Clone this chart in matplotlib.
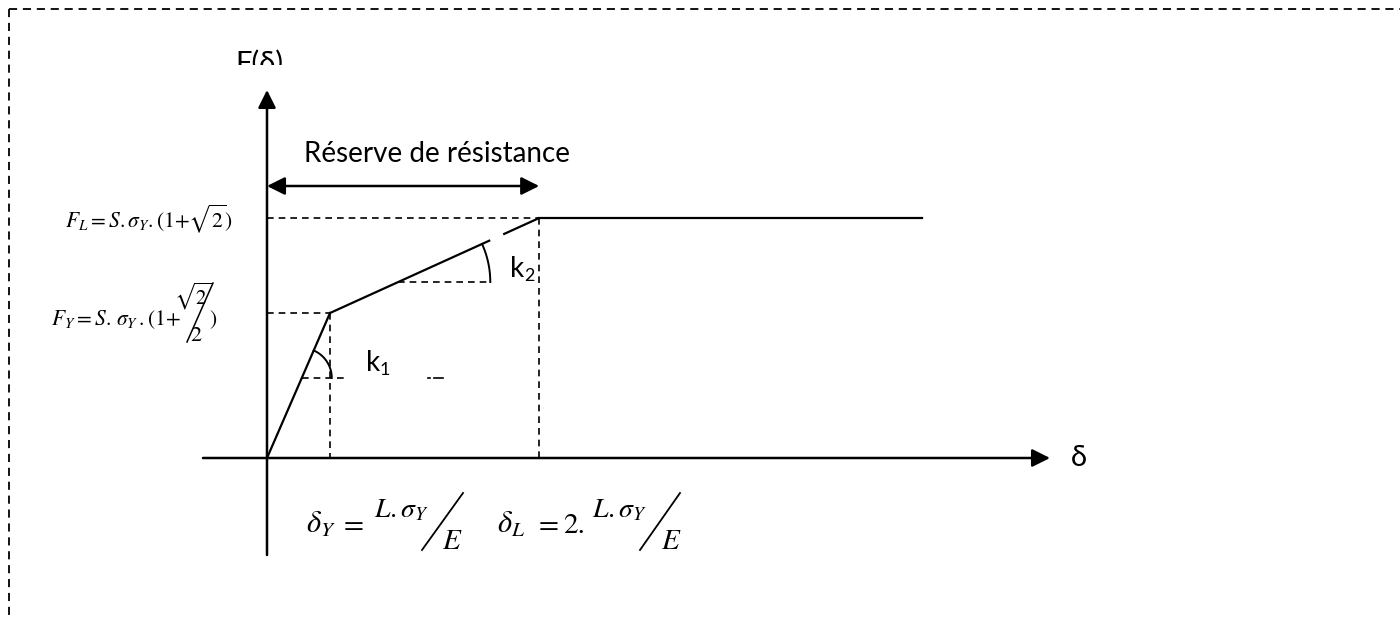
import numpy as np
import matplotlib
matplotlib.use('Agg')
import matplotlib.pyplot as plt
from matplotlib.transforms import Bbox, TransformedBbox

plt.rcParams['mathtext.fontset'] = 'stix'

# ---- data (schematic force-deformation law) ----
delta = [0.0, 1.0, 4.32, 10.40]      # deformation: origin, delta_Y, delta_L, end of plateau
force = [0.0, 1.0, 1.655, 1.655]     # force: 0, F_Y, F_L, F_L
title_reserve = "Réserve de résistance"
y_label = "F(δ)"
x_label = "δ"

W, H = 1400, 618
X0, Y0 = 267, 458
SX, SY = 63.0, 145.0


def d(px, py):
    return ((px - X0) / SX, (Y0 - py) / SY)


fig = plt.figure(figsize=(14, 6.18), dpi=100)
ax = fig.add_axes([0, 0, 1, 1])
ax.set_xlim(-X0 / SX, (W - X0) / SX)
ax.set_ylim(-(H - Y0) / SY, Y0 / SY)
ax.axis('off')

K = 'black'
dash = dict(color=K, lw=1.2, dashes=(4, 3))


def seg(p, q, **kw):
    a, b = d(*p), d(*q)
    ax.plot([a[0], b[0]], [a[1], b[1]], **kw)


# dashed frame
seg((9, 9), (1400, 9), color=K, lw=1.3, dashes=(4.5, 3.2))
seg((9, 9), (9, 618), color=K, lw=1.3, dashes=(4.5, 3.2))

# axes with arrows
ap = dict(arrowstyle='-|>', lw=1.8, color=K, mutation_scale=27, shrinkA=0, shrinkB=0)
ax.annotate('', xy=d(1050, 458), xytext=d(203, 458), arrowprops=ap)
ax.annotate('', xy=d(267, 90), xytext=d(267, 555), arrowprops=ap)

# double arrow "reserve"
ap2 = dict(arrowstyle='<|-|>', lw=1.8, color=K, mutation_scale=27, shrinkA=0, shrinkB=0)
ya = d(0, 186)[1]
ax.annotate('', xy=(delta[2], ya), xytext=(delta[0], ya), arrowprops=ap2)
ax.text(*d(437, 162), title_reserve, ha='center', va='baseline',
        fontsize=20, family='Lato')

# dashed guides
ax.plot([delta[0], delta[2]], [force[2], force[2]], **dash)
ax.plot([delta[2], delta[2]], [force[2], force[0]], **dash)
ax.plot([delta[0], delta[1]], [force[1], force[1]], **dash)
ax.plot([delta[1], delta[1]], [force[1], force[0]], **dash)

# curve
lw_c = 1.6
ax.plot(delta[0:2], force[0:2], color=K, lw=lw_c)
t1, t2 = 0.766, 0.828
xa = [delta[1], delta[1] + t1 * (delta[2] - delta[1])]
ya_ = [force[1], force[1] + t1 * (force[2] - force[1])]
xb = [delta[1] + t2 * (delta[2] - delta[1]), delta[2]]
yb = [force[1] + t2 * (force[2] - force[1]), force[2]]
ax.plot(xa, ya_, color=K, lw=lw_c, solid_capstyle='butt')
ax.plot(xb, yb, color=K, lw=lw_c, solid_capstyle='butt')
ax.plot(delta[2:4], force[2:4], color=K, lw=lw_c)


def angle_mark(p0, p1, y_pix, x_end_pix, r_pix):
    x0p, y0p = X0 + p0[0] * SX, Y0 - p0[1] * SY
    x1p, y1p = X0 + p1[0] * SX, Y0 - p1[1] * SY
    t = (y_pix - y0p) / (y1p - y0p)
    xi = x0p + t * (x1p - x0p)
    ang = np.arctan2(-(y1p - y0p), x1p - x0p)
    seg((xi, y_pix), (x_end_pix, y_pix), **dash)
    th = np.linspace(0, ang, 60)
    px = xi + r_pix * np.cos(th)
    py = y_pix - r_pix * np.sin(th)
    ax.plot((px - X0) / SX, (Y0 - py) / SY, color=K, lw=1.4)


angle_mark((delta[0], force[0]), (delta[1], force[1]), 378, 345, 30)
angle_mark((delta[1], force[1]), (delta[2], force[2]), 282, 490, 92)

# stray small mark
seg((428, 378), (429.5, 378), color=K, lw=1.2)
seg((434, 378), (443, 378), color=K, lw=1.2)

# k labels
ax.text(*d(366, 371), 'k', fontsize=20, family='Lato', ha='left', va='baseline')
ax.text(*d(380, 375), '1', fontsize=13, family='Lato', ha='left', va='baseline')
ax.text(*d(510, 277), 'k', fontsize=20, family='Lato', ha='left', va='baseline')
ax.text(*d(524, 281), '2', fontsize=13, family='Lato', ha='left', va='baseline')

# axis labels
ax.text(*d(1079, 466), x_label, fontsize=21, family='Lato', ha='center', va='baseline')
tF = ax.text(*d(259, 72), y_label, fontsize=21, family='Lato', ha='center', va='baseline')
tF.set_clip_box(TransformedBbox(Bbox([[0, (H - 65) / H], [1, 1]]), fig.transFigure))
tF.set_clip_on(True)

# left formulas
ax.text(*d(233, 227), r'$F_L = S.\sigma_Y.(1{+}\sqrt{2})$', fontsize=15.5,
        ha='right', va='baseline')
ax.text(*d(51, 325), r'$F_Y = S.\,\sigma_Y\,.(1{+}$', fontsize=15.5,
        ha='left', va='baseline')
ax.text(*d(174, 305), r'$\sqrt{2}$', fontsize=15, ha='left', va='baseline')
seg((187, 342), (213, 283), color=K, lw=1.1)
ax.text(*d(190, 341), r'$2$', fontsize=16, ha='left', va='baseline')
ax.text(*d(209, 325), r'$)$', fontsize=15.5, ha='left', va='baseline')

# bottom formulas
fs = 21
ax.text(*d(306, 533), r'$\delta_Y$', fontsize=fs + 1, ha='left', va='baseline')
ax.text(*d(344, 533), '=', fontsize=fs, family='STIXGeneral', ha='left', va='baseline')
ax.text(*d(374, 517), r'$L.\sigma_Y$', fontsize=fs - 1, ha='left', va='baseline')
seg((422, 550), (463, 493), color=K, lw=1.3)
ax.text(*d(442, 549), r'$E$', fontsize=fs, ha='left', va='baseline')
ax.text(*d(497, 533), r'$\delta_L$', fontsize=fs + 1, ha='left', va='baseline')
ax.text(*d(539, 533), '=', fontsize=fs, family='STIXGeneral', ha='left', va='baseline')
ax.text(*d(563, 533), '2.', fontsize=fs, family='STIXGeneral', ha='left', va='baseline')
ax.text(*d(592, 517), r'$L.\sigma_Y$', fontsize=fs - 1, ha='left', va='baseline')
seg((640, 550), (680, 493), color=K, lw=1.3)
ax.text(*d(661, 549), r'$E$', fontsize=fs, ha='left', va='baseline')

fig.savefig('out.png', dpi=100, facecolor='white')
